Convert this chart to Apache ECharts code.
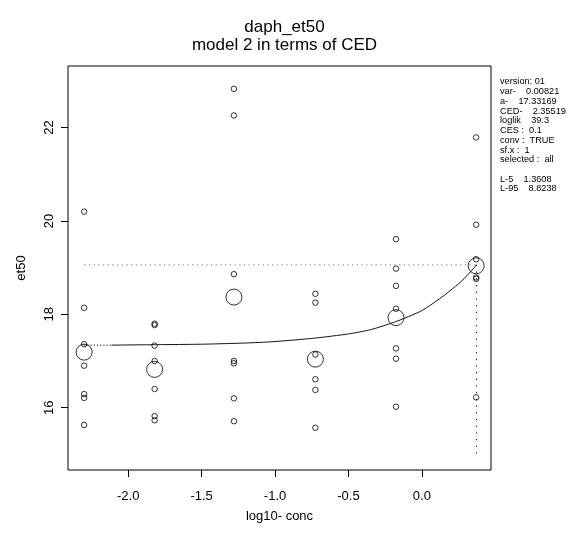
<!DOCTYPE html>
<html>
<head>
<meta charset="utf-8">
<script src="https://cdn.jsdelivr.net/npm/echarts@6/dist/echarts.min.js"></script>
<style>
  html, body { margin: 0; padding: 0; background: #fff; }
  #chart { width: 576px; height: 536px; }
</style>
</head>
<body>
<div id="chart"></div>
<script>
// log10 dose of each group
const doses = [-2.30, -1.82, -1.28, -0.725, -0.176, 0.37]
// individual et50 responses per group
const group1 = [20.20, 18.14, 17.36, 16.90, 16.29, 16.21, 15.63]
const group2 = [17.80, 17.77, 17.33, 17.00, 16.40, 15.82, 15.73]
const group3 = [22.83, 22.26, 18.86, 17.00, 16.95, 16.20, 15.71]
const group4 = [18.44, 18.25, 17.14, 16.61, 16.38, 15.57]
const group5 = [19.61, 18.98, 18.61, 18.12, 17.27, 17.05, 16.02]
const group6 = [21.79, 19.92, 19.18, 18.79, 18.76, 16.22]
// group means (big circles)
const means = [17.19, 16.82, 18.37, 17.04, 17.93, 19.04]

// fitted curve
const curveX = [-2.113, -1.8, -1.5, -1.25, -1.03, -0.73, -0.5, -0.35, -0.18, 0.0, 0.15, 0.27, 0.357, 0.372]
const curveY = [17.34, 17.35, 17.36, 17.38, 17.41, 17.49, 17.58, 17.67, 17.84, 18.08, 18.40, 18.71, 19.0, 19.06]

// CED reference lines
const cedX = 0.372
const cesY = 19.06
const vLineBottom = 15.0

const xTicks = [-2.0, -1.5, -1.0, -0.5, 0.0]
const yTicks = [16, 18, 20, 22]

const infoLines = [
  'version: 01',
  'var-    0.00821',
  'a-    17.33169',
  'CED-    2.35519',
  'loglik    39.3',
  'CES :  0.1',
  'conv :  TRUE',
  'sf.x :  1',
  'selected :  all',
  '',
  'L-5    1.3608',
  'L-95    8.8238'
]

const groups = [group1, group2, group3, group4, group5, group6]
const points = []
groups.forEach((g, i) => g.forEach(v => points.push([doses[i], v])))

const font = 'Liberation Sans, Arial, sans-serif'
let myChart = echarts.init(document.getElementById('chart'))
myChart.setOption({
  animation: false,
  title: {
    text: 'daph_et50\nmodel 2 in terms of CED',
    left: 279.5,
    top: 13,
    textAlign: 'center',
    textStyle: { fontFamily: font, fontSize: 17, fontWeight: 'normal', color: '#000', lineHeight: 18 }
  },
  grid: {
    left: 68, right: 85, top: 66, bottom: 66,
    show: true, borderColor: '#000', borderWidth: 1
  },
  xAxis: {
    type: 'value',
    min: -2.41,
    max: 0.471,
    name: 'log10- conc',
    nameLocation: 'middle',
    nameGap: 40,
    nameTextStyle: { fontFamily: font, fontSize: 13, color: '#000' },
    splitLine: { show: false },
    axisLine: { show: false, onZero: false },
    axisTick: { show: true, length: 7, lineStyle: { color: '#000' }, customValues: xTicks },
    axisLabel: {
      fontFamily: font, fontSize: 13, color: '#000', margin: 20,
      customValues: xTicks,
      formatter: v => v.toFixed(1)
    }
  },
  yAxis: {
    type: 'value',
    min: 14.665,
    max: 23.32,
    name: 'et50',
    nameLocation: 'middle',
    nameRotate: 90,
    nameGap: 40,
    nameTextStyle: { fontFamily: font, fontSize: 13, color: '#000' },
    splitLine: { show: false },
    axisLine: { show: false, onZero: false },
    axisTick: { show: true, length: 7, lineStyle: { color: '#000' }, customValues: yTicks },
    axisLabel: {
      fontFamily: font, fontSize: 13, color: '#000', margin: 12, rotate: 90,
      customValues: yTicks
    }
  },
  graphic: [{
    type: 'text',
    left: 500,
    top: 77,
    style: {
      text: infoLines.join('\n'),
      font: '9.2px ' + font,
      lineHeight: 9.73,
      fill: '#000'
    }
  }],
  series: [
    {
      type: 'line',
      data: [[doses[0], cesY], [cedX, cesY]],
      symbol: 'none',
      lineStyle: { color: '#777', width: 1, type: [1.2, 3.5] }
    },
    {
      type: 'line',
      data: [[cedX, cesY], [cedX, vLineBottom]],
      symbol: 'none',
      lineStyle: { color: '#000', width: 1, type: [1.2, 5.5] }
    },
    {
      type: 'line',
      data: [[doses[0], curveY[0]], [curveX[0], curveY[0]]],
      symbol: 'none',
      lineStyle: { color: '#000', width: 1, type: [1.2, 2] }
    },
    {
      type: 'line',
      data: curveX.map((x, i) => [x, curveY[i]]),
      symbol: 'none',
      smooth: 0.2,
      lineStyle: { color: '#111', width: 1 }
    },
    {
      type: 'scatter',
      data: points,
      symbol: 'circle',
      symbolSize: 5.5,
      itemStyle: { color: 'rgba(0,0,0,0)', borderColor: '#000', borderWidth: 1 }
    },
    {
      type: 'scatter',
      data: doses.map((x, i) => [x, means[i]]),
      symbol: 'circle',
      symbolSize: 16,
      itemStyle: { color: 'rgba(0,0,0,0)', borderColor: '#000', borderWidth: 1 }
    }
  ]
})
</script>
</body>
</html>
